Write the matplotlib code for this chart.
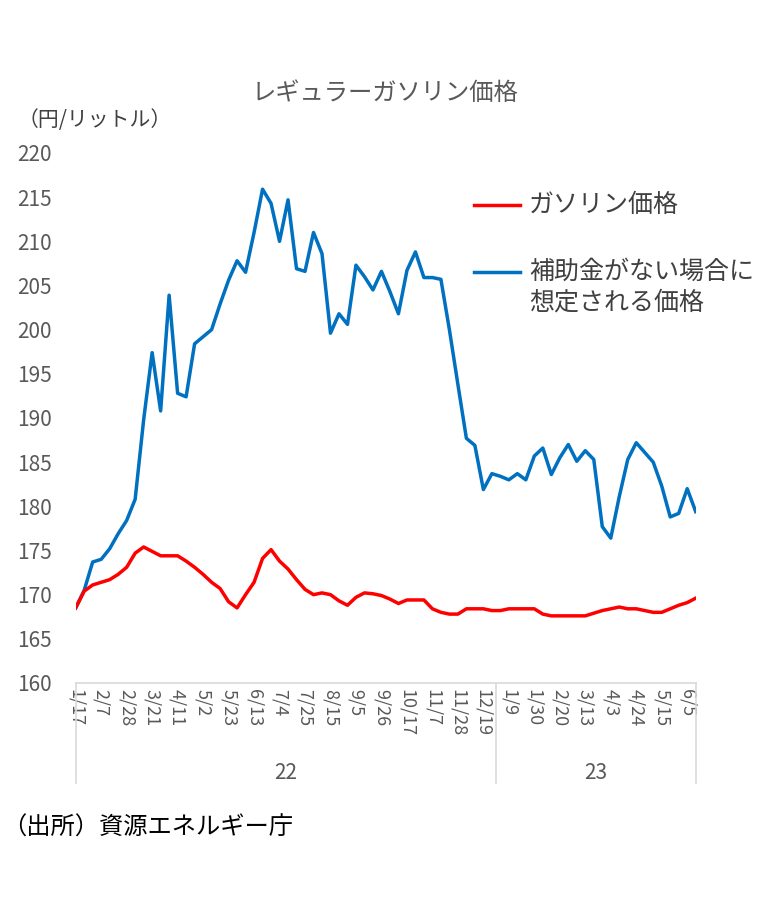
import matplotlib
matplotlib.use("Agg")
import matplotlib.pyplot as plt
from matplotlib.lines import Line2D
import matplotlib.transforms as mtransforms

plt.rcParams['font.family'] = ['Noto Sans CJK JP', 'DejaVu Sans']

# 週次データ（2022/1/17 ～ 2023/6/12）
gasoline = [168.5, 170.4, 171.1, 171.4, 171.7, 172.3, 173.1, 174.7, 175.4, 174.9,
            174.4, 174.4, 174.4, 173.8, 173.1, 172.3, 171.4, 170.7, 169.2, 168.5,
            170.0, 171.4, 174.1, 175.1, 173.8, 172.9, 171.7, 170.6, 170.0, 170.2,
            170.0, 169.3, 168.8, 169.7, 170.2, 170.1, 169.9, 169.5, 169.0, 169.4,
            169.4, 169.4, 168.4, 168.0, 167.8, 167.8, 168.4, 168.4, 168.4, 168.2,
            168.2, 168.4, 168.4, 168.4, 168.4, 167.8, 167.6, 167.6, 167.6, 167.6,
            167.6, 167.9, 168.2, 168.4, 168.6, 168.4, 168.4, 168.2, 168.0, 168.0,
            168.4, 168.8, 169.1, 169.6]

no_subsidy = [168.5, 170.5, 173.7, 174.0, 175.2, 176.9, 178.4, 180.8, 189.8, 197.4,
              190.8, 203.9, 192.8, 192.4, 198.4, 199.2, 200.0, 202.9, 205.6, 207.8,
              206.5, 211.0, 215.9, 214.3, 210.0, 214.7, 206.9, 206.6, 211.0, 208.6,
              199.6, 201.8, 200.6, 207.3, 206.0, 204.5, 206.6, 204.3, 201.8, 206.7,
              208.8, 205.9, 205.9, 205.7, 200.0, 193.8, 187.7, 186.9, 181.9, 183.7,
              183.4, 183.0, 183.7, 183.0, 185.7, 186.6, 183.6, 185.5, 187.0, 185.1,
              186.3, 185.3, 177.7, 176.4, 181.1, 185.3, 187.2, 186.1, 185.0, 182.3,
              178.8, 179.2, 182.0, 179.4]

tick_labels = ["1/17", "2/7", "2/28", "3/21", "4/11", "5/2", "5/23", "6/13", "7/4",
               "7/25", "8/15", "9/5", "9/26", "10/17", "11/7", "11/28", "12/19",
               "1/9", "1/30", "2/20", "3/13", "4/3", "4/24", "5/15", "6/5"]
years = ["22", "23"]
year_counts = [50, 24]

W, H = 759, 899
fig = plt.figure(figsize=(W / 100, H / 100), dpi=100)

def fx(px):
    return px / W

def fy(py):
    return 1 - py / H

left, right, top, bottom = 75.7, 695.7, 153, 683
ax = fig.add_axes([fx(left), fy(bottom), fx(right) - fx(left), fy(top) - fy(bottom)])

x = list(range(len(gasoline)))
ax.plot(x, no_subsidy, color="#0070C0", lw=2.5, solid_joinstyle="round")
ax.plot(x, gasoline, color="#FF0000", lw=2.5, solid_joinstyle="round")

ax.set_xlim(0, len(x) - 1)
ax.set_ylim(160, 220)
ax.set_yticks(range(160, 221, 5))
ax.tick_params(axis="y", length=0, pad=17, labelsize=15, labelcolor="#595959")

ax.set_xticks(range(0, 3 * len(tick_labels), 3))
ax.set_xticklabels(tick_labels, rotation=-90, fontsize=13, color="#595959")
ax.tick_params(axis="x", length=0, pad=4)

for s in ["top", "right", "left"]:
    ax.spines[s].set_visible(False)
ax.spines["bottom"].set_color("#D9D9D9")
ax.spines["bottom"].set_linewidth(1.2)

# 年区切りの線と年ラベル
trans = mtransforms.blended_transform_factory(ax.transData, ax.transAxes)
depth = -(783 - bottom) / (bottom - top)
bounds = [0]
for c in year_counts:
    bounds.append(bounds[-1] + c)
edges = [0] + [b - 0.5 for b in bounds[1:-1]] + [len(x) - 1]
for e in edges:
    ax.add_line(Line2D([e, e], [0, depth], transform=trans, color="#D9D9D9",
                       lw=1.2, clip_on=False))
for i, yr in enumerate(years):
    ax.text((edges[i] + edges[i + 1]) / 2, -(773 - bottom) / (bottom - top), yr,
            transform=trans, ha="center", va="center", fontsize=15, color="#595959")

fig.text(fx(385), fy(93), "レギュラーガソリン価格", ha="center", va="center",
         fontsize=17.5, color="#595959")
fig.text(fx(18), fy(120), "（円/リットル）", ha="left", va="center",
         fontsize=15, color="#404040")

# 凡例
fig.add_artist(Line2D([fx(474), fx(520)], [fy(205), fy(205)], color="#FF0000", lw=2.5))
fig.text(fx(529), fy(205), "ガソリン価格", ha="left", va="center", fontsize=18, color="#404040")
fig.add_artist(Line2D([fx(474), fx(520)], [fy(272), fy(272)], color="#0070C0", lw=2.5))
fig.text(fx(529), fy(272), "補助金がない場合に", ha="left", va="center", fontsize=18, color="#404040")
fig.text(fx(529), fy(303), "想定される価格", ha="left", va="center", fontsize=18, color="#404040")

fig.text(fx(2), fy(828), "（出所）資源エネルギー庁", ha="left", va="center",
         fontsize=17.5, color="#000000")

fig.savefig("out.png", dpi=100)
